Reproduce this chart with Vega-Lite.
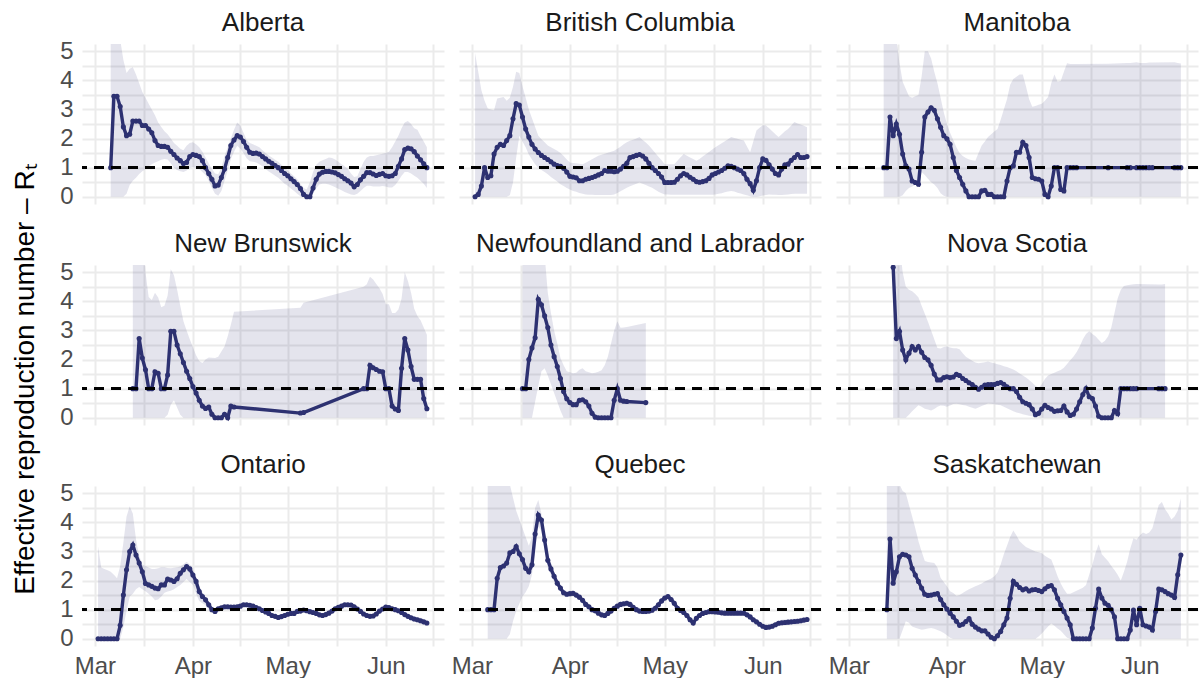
{
"$schema":"https://vega.github.io/schema/vega-lite/v6.json",
"background":"white",
"padding":{"left":11,"top":10,"right":0,"bottom":0},
"title":{"text":"Effective reproduction number – Rₜ","orient":"left","anchor":"middle","fontSize":28,"fontWeight":"normal","font":"Liberation Sans","color":"#000000","offset":20,"dx":-35},
"data":{"values":[
{"province":"Alberta","date":"2020-03-06","R":1.0,"lo":0,"hi":9},
{"province":"Alberta","date":"2020-03-07","R":3.45,"lo":0,"hi":8},
{"province":"Alberta","date":"2020-03-08","R":3.45,"lo":0,"hi":6.5},
{"province":"Alberta","date":"2020-03-09","R":3.1,"lo":0,"hi":5.4},
{"province":"Alberta","date":"2020-03-10","R":2.4,"lo":0,"hi":4.7},
{"province":"Alberta","date":"2020-03-11","R":2.1,"lo":0.1,"hi":4.25},
{"province":"Alberta","date":"2020-03-12","R":2.15,"lo":0.4,"hi":4.4},
{"province":"Alberta","date":"2020-03-13","R":2.6,"lo":0.55,"hi":4.45},
{"province":"Alberta","date":"2020-03-14","R":2.6,"lo":0.65,"hi":4.2},
{"province":"Alberta","date":"2020-03-15","R":2.6,"lo":0.78,"hi":3.9},
{"province":"Alberta","date":"2020-03-16","R":2.45,"lo":0.88,"hi":3.6},
{"province":"Alberta","date":"2020-03-17","R":2.45,"lo":0.95,"hi":3.4},
{"province":"Alberta","date":"2020-03-18","R":2.33,"lo":1.05,"hi":3.2},
{"province":"Alberta","date":"2020-03-19","R":2.2,"lo":1.12,"hi":3.0},
{"province":"Alberta","date":"2020-03-20","R":1.93,"lo":1.18,"hi":2.8},
{"province":"Alberta","date":"2020-03-21","R":1.76,"lo":1.22,"hi":2.55},
{"province":"Alberta","date":"2020-03-22","R":1.73,"lo":1.27,"hi":2.4},
{"province":"Alberta","date":"2020-03-23","R":1.73,"lo":1.3,"hi":2.25},
{"province":"Alberta","date":"2020-03-24","R":1.7,"lo":1.28,"hi":2.15},
{"province":"Alberta","date":"2020-03-25","R":1.56,"lo":1.15,"hi":2.0},
{"province":"Alberta","date":"2020-03-26","R":1.45,"lo":1.0,"hi":1.85},
{"province":"Alberta","date":"2020-03-27","R":1.33,"lo":0.92,"hi":1.75},
{"province":"Alberta","date":"2020-03-28","R":1.24,"lo":0.88,"hi":1.65},
{"province":"Alberta","date":"2020-03-29","R":1.14,"lo":0.85,"hi":1.6},
{"province":"Alberta","date":"2020-03-30","R":1.18,"lo":0.9,"hi":1.75},
{"province":"Alberta","date":"2020-03-31","R":1.38,"lo":1.0,"hi":1.85},
{"province":"Alberta","date":"2020-04-01","R":1.45,"lo":1.02,"hi":1.87},
{"province":"Alberta","date":"2020-04-02","R":1.42,"lo":1.0,"hi":1.8},
{"province":"Alberta","date":"2020-04-03","R":1.38,"lo":0.95,"hi":1.7},
{"province":"Alberta","date":"2020-04-04","R":1.24,"lo":0.85,"hi":1.55},
{"province":"Alberta","date":"2020-04-05","R":1.0,"lo":0.75,"hi":1.35},
{"province":"Alberta","date":"2020-04-06","R":0.8,"lo":0.55,"hi":1.15},
{"province":"Alberta","date":"2020-04-07","R":0.6,"lo":0.3,"hi":0.95},
{"province":"Alberta","date":"2020-04-08","R":0.37,"lo":0.1,"hi":0.8},
{"province":"Alberta","date":"2020-04-09","R":0.4,"lo":0.03,"hi":0.77},
{"province":"Alberta","date":"2020-04-10","R":0.66,"lo":0.2,"hi":1.0},
{"province":"Alberta","date":"2020-04-11","R":0.95,"lo":0.55,"hi":1.4},
{"province":"Alberta","date":"2020-04-12","R":1.35,"lo":0.9,"hi":1.7},
{"province":"Alberta","date":"2020-04-13","R":1.76,"lo":1.3,"hi":2.0},
{"province":"Alberta","date":"2020-04-14","R":1.95,"lo":1.55,"hi":2.3},
{"province":"Alberta","date":"2020-04-15","R":2.1,"lo":1.75,"hi":2.55},
{"province":"Alberta","date":"2020-04-16","R":2.05,"lo":1.65,"hi":2.45},
{"province":"Alberta","date":"2020-04-17","R":1.9,"lo":1.5,"hi":2.2},
{"province":"Alberta","date":"2020-04-18","R":1.7,"lo":1.32,"hi":1.95},
{"province":"Alberta","date":"2020-04-19","R":1.53,"lo":1.22,"hi":1.85},
{"province":"Alberta","date":"2020-04-20","R":1.49,"lo":1.2,"hi":1.8},
{"province":"Alberta","date":"2020-04-21","R":1.5,"lo":1.18,"hi":1.75},
{"province":"Alberta","date":"2020-04-22","R":1.47,"lo":1.12,"hi":1.7},
{"province":"Alberta","date":"2020-04-23","R":1.38,"lo":1.05,"hi":1.6},
{"province":"Alberta","date":"2020-04-24","R":1.3,"lo":0.95,"hi":1.5},
{"province":"Alberta","date":"2020-04-25","R":1.22,"lo":0.87,"hi":1.42},
{"province":"Alberta","date":"2020-04-26","R":1.15,"lo":0.8,"hi":1.35},
{"province":"Alberta","date":"2020-04-27","R":1.07,"lo":0.72,"hi":1.27},
{"province":"Alberta","date":"2020-04-28","R":1.0,"lo":0.65,"hi":1.2},
{"province":"Alberta","date":"2020-04-29","R":0.9,"lo":0.55,"hi":1.1},
{"province":"Alberta","date":"2020-04-30","R":0.8,"lo":0.45,"hi":1.0},
{"province":"Alberta","date":"2020-05-01","R":0.72,"lo":0.38,"hi":0.9},
{"province":"Alberta","date":"2020-05-02","R":0.62,"lo":0.28,"hi":0.8},
{"province":"Alberta","date":"2020-05-03","R":0.52,"lo":0.2,"hi":0.7},
{"province":"Alberta","date":"2020-05-04","R":0.42,"lo":0.1,"hi":0.6},
{"province":"Alberta","date":"2020-05-05","R":0.28,"lo":0.02,"hi":0.45},
{"province":"Alberta","date":"2020-05-06","R":0.08,"lo":0,"hi":0.3},
{"province":"Alberta","date":"2020-05-07","R":0,"lo":0,"hi":0.25},
{"province":"Alberta","date":"2020-05-08","R":0,"lo":0,"hi":0.5},
{"province":"Alberta","date":"2020-05-09","R":0.3,"lo":0.1,"hi":0.85},
{"province":"Alberta","date":"2020-05-10","R":0.6,"lo":0.3,"hi":1.1},
{"province":"Alberta","date":"2020-05-11","R":0.78,"lo":0.42,"hi":1.2},
{"province":"Alberta","date":"2020-05-12","R":0.84,"lo":0.45,"hi":1.25},
{"province":"Alberta","date":"2020-05-13","R":0.87,"lo":0.45,"hi":1.3},
{"province":"Alberta","date":"2020-05-14","R":0.87,"lo":0.42,"hi":1.35},
{"province":"Alberta","date":"2020-05-15","R":0.85,"lo":0.38,"hi":1.33},
{"province":"Alberta","date":"2020-05-16","R":0.82,"lo":0.33,"hi":1.28},
{"province":"Alberta","date":"2020-05-17","R":0.76,"lo":0.27,"hi":1.2},
{"province":"Alberta","date":"2020-05-18","R":0.7,"lo":0.22,"hi":1.12},
{"province":"Alberta","date":"2020-05-19","R":0.62,"lo":0.16,"hi":1.05},
{"province":"Alberta","date":"2020-05-20","R":0.55,"lo":0.12,"hi":0.95},
{"province":"Alberta","date":"2020-05-21","R":0.47,"lo":0.08,"hi":0.8},
{"province":"Alberta","date":"2020-05-22","R":0.34,"lo":0.06,"hi":0.68},
{"province":"Alberta","date":"2020-05-23","R":0.42,"lo":0.1,"hi":0.7},
{"province":"Alberta","date":"2020-05-24","R":0.58,"lo":0.2,"hi":0.95},
{"province":"Alberta","date":"2020-05-25","R":0.7,"lo":0.3,"hi":1.2},
{"province":"Alberta","date":"2020-05-26","R":0.83,"lo":0.38,"hi":1.35},
{"province":"Alberta","date":"2020-05-27","R":0.83,"lo":0.38,"hi":1.4},
{"province":"Alberta","date":"2020-05-28","R":0.78,"lo":0.35,"hi":1.4},
{"province":"Alberta","date":"2020-05-29","R":0.73,"lo":0.35,"hi":1.43},
{"province":"Alberta","date":"2020-05-30","R":0.77,"lo":0.35,"hi":1.45},
{"province":"Alberta","date":"2020-05-31","R":0.8,"lo":0.37,"hi":1.48},
{"province":"Alberta","date":"2020-06-01","R":0.72,"lo":0.35,"hi":1.5},
{"province":"Alberta","date":"2020-06-02","R":0.7,"lo":0.32,"hi":1.55},
{"province":"Alberta","date":"2020-06-03","R":0.72,"lo":0.32,"hi":1.7},
{"province":"Alberta","date":"2020-06-04","R":0.8,"lo":0.4,"hi":1.9},
{"province":"Alberta","date":"2020-06-05","R":1.05,"lo":0.55,"hi":2.1},
{"province":"Alberta","date":"2020-06-06","R":1.3,"lo":0.72,"hi":2.35},
{"province":"Alberta","date":"2020-06-07","R":1.62,"lo":0.85,"hi":2.55},
{"province":"Alberta","date":"2020-06-08","R":1.67,"lo":0.85,"hi":2.6},
{"province":"Alberta","date":"2020-06-09","R":1.65,"lo":0.8,"hi":2.5},
{"province":"Alberta","date":"2020-06-10","R":1.55,"lo":0.72,"hi":2.35},
{"province":"Alberta","date":"2020-06-11","R":1.4,"lo":0.65,"hi":2.3},
{"province":"Alberta","date":"2020-06-12","R":1.27,"lo":0.55,"hi":2.1},
{"province":"Alberta","date":"2020-06-13","R":1.13,"lo":0.45,"hi":1.9},
{"province":"Alberta","date":"2020-06-14","R":1.0,"lo":0.3,"hi":1.7},
{"province":"British Columbia","date":"2020-03-02","R":0,"lo":0,"hi":4.94},
{"province":"British Columbia","date":"2020-03-03","R":0.08,"lo":0,"hi":4.3},
{"province":"British Columbia","date":"2020-03-04","R":0.37,"lo":0,"hi":3.66},
{"province":"British Columbia","date":"2020-03-05","R":1.0,"lo":0,"hi":3.3},
{"province":"British Columbia","date":"2020-03-06","R":0.66,"lo":0,"hi":3.03},
{"province":"British Columbia","date":"2020-03-07","R":0.72,"lo":0,"hi":3.0},
{"province":"British Columbia","date":"2020-03-08","R":1.47,"lo":0,"hi":2.97},
{"province":"British Columbia","date":"2020-03-09","R":1.7,"lo":0,"hi":3.38},
{"province":"British Columbia","date":"2020-03-10","R":1.8,"lo":0,"hi":3.4},
{"province":"British Columbia","date":"2020-03-11","R":1.76,"lo":0,"hi":3.43},
{"province":"British Columbia","date":"2020-03-12","R":1.93,"lo":0,"hi":3.3},
{"province":"British Columbia","date":"2020-03-13","R":2.1,"lo":0.05,"hi":3.4},
{"province":"British Columbia","date":"2020-03-14","R":2.68,"lo":0.5,"hi":3.78},
{"province":"British Columbia","date":"2020-03-15","R":3.2,"lo":1.35,"hi":4.3},
{"province":"British Columbia","date":"2020-03-16","R":3.15,"lo":2.1,"hi":4.25},
{"province":"British Columbia","date":"2020-03-17","R":2.74,"lo":1.9,"hi":3.8},
{"province":"British Columbia","date":"2020-03-18","R":2.33,"lo":1.7,"hi":3.4},
{"province":"British Columbia","date":"2020-03-19","R":2.05,"lo":1.45,"hi":3.0},
{"province":"British Columbia","date":"2020-03-20","R":1.8,"lo":1.28,"hi":2.7},
{"province":"British Columbia","date":"2020-03-21","R":1.64,"lo":1.12,"hi":2.4},
{"province":"British Columbia","date":"2020-03-22","R":1.52,"lo":1.0,"hi":2.1},
{"province":"British Columbia","date":"2020-03-23","R":1.42,"lo":0.92,"hi":1.98},
{"province":"British Columbia","date":"2020-03-24","R":1.35,"lo":0.85,"hi":1.87},
{"province":"British Columbia","date":"2020-03-25","R":1.28,"lo":0.77,"hi":1.76},
{"province":"British Columbia","date":"2020-03-26","R":1.2,"lo":0.68,"hi":1.7},
{"province":"British Columbia","date":"2020-03-27","R":1.12,"lo":0.6,"hi":1.64},
{"province":"British Columbia","date":"2020-03-28","R":1.07,"lo":0.52,"hi":1.58},
{"province":"British Columbia","date":"2020-03-29","R":1.05,"lo":0.43,"hi":1.5},
{"province":"British Columbia","date":"2020-03-30","R":0.98,"lo":0.37,"hi":1.4},
{"province":"British Columbia","date":"2020-03-31","R":0.85,"lo":0.3,"hi":1.28},
{"province":"British Columbia","date":"2020-04-01","R":0.7,"lo":0.25,"hi":1.18},
{"province":"British Columbia","date":"2020-04-02","R":0.68,"lo":0.2,"hi":1.16},
{"province":"British Columbia","date":"2020-04-03","R":0.65,"lo":0.17,"hi":1.15},
{"province":"British Columbia","date":"2020-04-04","R":0.55,"lo":0.13,"hi":1.13},
{"province":"British Columbia","date":"2020-04-05","R":0.55,"lo":0.1,"hi":1.12},
{"province":"British Columbia","date":"2020-04-06","R":0.6,"lo":0.08,"hi":1.17},
{"province":"British Columbia","date":"2020-04-07","R":0.63,"lo":0.07,"hi":1.23},
{"province":"British Columbia","date":"2020-04-08","R":0.66,"lo":0.07,"hi":1.29},
{"province":"British Columbia","date":"2020-04-09","R":0.7,"lo":0.06,"hi":1.35},
{"province":"British Columbia","date":"2020-04-10","R":0.75,"lo":0.06,"hi":1.41},
{"province":"British Columbia","date":"2020-04-11","R":0.8,"lo":0.06,"hi":1.44},
{"province":"British Columbia","date":"2020-04-12","R":0.9,"lo":0.06,"hi":1.48},
{"province":"British Columbia","date":"2020-04-13","R":0.88,"lo":0.06,"hi":1.51},
{"province":"British Columbia","date":"2020-04-14","R":0.88,"lo":0.06,"hi":1.55},
{"province":"British Columbia","date":"2020-04-15","R":0.86,"lo":0.08,"hi":1.58},
{"province":"British Columbia","date":"2020-04-16","R":0.88,"lo":0.13,"hi":1.65},
{"province":"British Columbia","date":"2020-04-17","R":0.95,"lo":0.19,"hi":1.72},
{"province":"British Columbia","date":"2020-04-18","R":1.05,"lo":0.25,"hi":1.8},
{"province":"British Columbia","date":"2020-04-19","R":1.15,"lo":0.31,"hi":1.87},
{"province":"British Columbia","date":"2020-04-20","R":1.35,"lo":0.36,"hi":1.92},
{"province":"British Columbia","date":"2020-04-21","R":1.38,"lo":0.4,"hi":1.96},
{"province":"British Columbia","date":"2020-04-22","R":1.42,"lo":0.45,"hi":2.0},
{"province":"British Columbia","date":"2020-04-23","R":1.45,"lo":0.49,"hi":2.05},
{"province":"British Columbia","date":"2020-04-24","R":1.4,"lo":0.45,"hi":1.95},
{"province":"British Columbia","date":"2020-04-25","R":1.3,"lo":0.4,"hi":1.86},
{"province":"British Columbia","date":"2020-04-26","R":1.15,"lo":0.35,"hi":1.76},
{"province":"British Columbia","date":"2020-04-27","R":1.0,"lo":0.31,"hi":1.63},
{"province":"British Columbia","date":"2020-04-28","R":0.9,"lo":0.24,"hi":1.5},
{"province":"British Columbia","date":"2020-04-29","R":0.8,"lo":0.17,"hi":1.37},
{"province":"British Columbia","date":"2020-04-30","R":0.68,"lo":0.12,"hi":1.25},
{"province":"British Columbia","date":"2020-05-01","R":0.49,"lo":0.08,"hi":1.12},
{"province":"British Columbia","date":"2020-05-02","R":0.49,"lo":0.08,"hi":1.12},
{"province":"British Columbia","date":"2020-05-03","R":0.49,"lo":0.07,"hi":1.12},
{"province":"British Columbia","date":"2020-05-04","R":0.5,"lo":0.07,"hi":1.12},
{"province":"British Columbia","date":"2020-05-05","R":0.6,"lo":0.07,"hi":1.24},
{"province":"British Columbia","date":"2020-05-06","R":0.72,"lo":0.07,"hi":1.36},
{"province":"British Columbia","date":"2020-05-07","R":0.8,"lo":0.07,"hi":1.47},
{"province":"British Columbia","date":"2020-05-08","R":0.75,"lo":0.07,"hi":1.41},
{"province":"British Columbia","date":"2020-05-09","R":0.67,"lo":0.07,"hi":1.35},
{"province":"British Columbia","date":"2020-05-10","R":0.6,"lo":0.07,"hi":1.3},
{"province":"British Columbia","date":"2020-05-11","R":0.52,"lo":0.07,"hi":1.24},
{"province":"British Columbia","date":"2020-05-12","R":0.5,"lo":0.07,"hi":1.3},
{"province":"British Columbia","date":"2020-05-13","R":0.52,"lo":0.07,"hi":1.38},
{"province":"British Columbia","date":"2020-05-14","R":0.55,"lo":0.07,"hi":1.46},
{"province":"British Columbia","date":"2020-05-15","R":0.63,"lo":0.07,"hi":1.54},
{"province":"British Columbia","date":"2020-05-16","R":0.75,"lo":0.07,"hi":1.62},
{"province":"British Columbia","date":"2020-05-17","R":0.8,"lo":0.08,"hi":1.7},
{"province":"British Columbia","date":"2020-05-18","R":0.85,"lo":0.1,"hi":1.77},
{"province":"British Columbia","date":"2020-05-19","R":0.9,"lo":0.12,"hi":1.84},
{"province":"British Columbia","date":"2020-05-20","R":0.98,"lo":0.15,"hi":1.91},
{"province":"British Columbia","date":"2020-05-21","R":1.06,"lo":0.18,"hi":1.98},
{"province":"British Columbia","date":"2020-05-22","R":1.05,"lo":0.2,"hi":2.05},
{"province":"British Columbia","date":"2020-05-23","R":1.0,"lo":0.18,"hi":2.02},
{"province":"British Columbia","date":"2020-05-24","R":0.95,"lo":0.14,"hi":1.99},
{"province":"British Columbia","date":"2020-05-25","R":0.9,"lo":0.11,"hi":1.96},
{"province":"British Columbia","date":"2020-05-26","R":0.8,"lo":0.08,"hi":1.93},
{"province":"British Columbia","date":"2020-05-27","R":0.6,"lo":0.05,"hi":1.73},
{"province":"British Columbia","date":"2020-05-28","R":0.45,"lo":0.02,"hi":1.53},
{"province":"British Columbia","date":"2020-05-29","R":0.22,"lo":0,"hi":1.9},
{"province":"British Columbia","date":"2020-05-30","R":0.55,"lo":0,"hi":2.28},
{"province":"British Columbia","date":"2020-05-31","R":1.0,"lo":0.02,"hi":2.37},
{"province":"British Columbia","date":"2020-06-01","R":1.3,"lo":0.04,"hi":2.46},
{"province":"British Columbia","date":"2020-06-02","R":1.25,"lo":0.06,"hi":2.45},
{"province":"British Columbia","date":"2020-06-03","R":1.1,"lo":0.08,"hi":2.35},
{"province":"British Columbia","date":"2020-06-04","R":0.95,"lo":0.07,"hi":2.25},
{"province":"British Columbia","date":"2020-06-05","R":0.8,"lo":0.07,"hi":2.15},
{"province":"British Columbia","date":"2020-06-06","R":0.75,"lo":0.06,"hi":2.05},
{"province":"British Columbia","date":"2020-06-07","R":0.95,"lo":0.06,"hi":2.15},
{"province":"British Columbia","date":"2020-06-08","R":1.1,"lo":0.07,"hi":2.25},
{"province":"British Columbia","date":"2020-06-09","R":1.12,"lo":0.08,"hi":2.33},
{"province":"British Columbia","date":"2020-06-10","R":1.25,"lo":0.09,"hi":2.45},
{"province":"British Columbia","date":"2020-06-11","R":1.35,"lo":0.1,"hi":2.57},
{"province":"British Columbia","date":"2020-06-12","R":1.45,"lo":0.1,"hi":2.52},
{"province":"British Columbia","date":"2020-06-13","R":1.35,"lo":0.1,"hi":2.48},
{"province":"British Columbia","date":"2020-06-14","R":1.35,"lo":0.1,"hi":2.44},
{"province":"British Columbia","date":"2020-06-15","R":1.38,"lo":0.1,"hi":2.39},
{"province":"Manitoba","date":"2020-03-12","R":1.0,"lo":0,"hi":8},
{"province":"Manitoba","date":"2020-03-13","R":1.0,"lo":0,"hi":8},
{"province":"Manitoba","date":"2020-03-14","R":2.74,"lo":0,"hi":8},
{"province":"Manitoba","date":"2020-03-15","R":2.1,"lo":0,"hi":8},
{"province":"Manitoba","date":"2020-03-16","R":2.5,"lo":0,"hi":5.4},
{"province":"Manitoba","date":"2020-03-17","R":2.15,"lo":0,"hi":4.6},
{"province":"Manitoba","date":"2020-03-18","R":1.47,"lo":0.05,"hi":3.95},
{"province":"Manitoba","date":"2020-03-19","R":1.06,"lo":0.2,"hi":3.7},
{"province":"Manitoba","date":"2020-03-20","R":0.95,"lo":0.3,"hi":3.45},
{"province":"Manitoba","date":"2020-03-21","R":0.54,"lo":0.35,"hi":3.4},
{"province":"Manitoba","date":"2020-03-22","R":0.49,"lo":0.4,"hi":3.45},
{"province":"Manitoba","date":"2020-03-23","R":0.43,"lo":0.42,"hi":3.5},
{"province":"Manitoba","date":"2020-03-24","R":1.53,"lo":0.85,"hi":4.13},
{"province":"Manitoba","date":"2020-03-25","R":2.74,"lo":0.75,"hi":5.0},
{"province":"Manitoba","date":"2020-03-26","R":2.91,"lo":0.62,"hi":5.0},
{"province":"Manitoba","date":"2020-03-27","R":3.06,"lo":0.5,"hi":4.75},
{"province":"Manitoba","date":"2020-03-28","R":2.97,"lo":0.42,"hi":4.3},
{"province":"Manitoba","date":"2020-03-29","R":2.68,"lo":0.3,"hi":3.9},
{"province":"Manitoba","date":"2020-03-30","R":2.39,"lo":0.12,"hi":3.4},
{"province":"Manitoba","date":"2020-03-31","R":2.1,"lo":0.03,"hi":2.9},
{"province":"Manitoba","date":"2020-04-01","R":1.99,"lo":0,"hi":2.5},
{"province":"Manitoba","date":"2020-04-02","R":1.8,"lo":0,"hi":2.2},
{"province":"Manitoba","date":"2020-04-03","R":1.35,"lo":0,"hi":1.95},
{"province":"Manitoba","date":"2020-04-04","R":0.9,"lo":0,"hi":1.7},
{"province":"Manitoba","date":"2020-04-05","R":0.66,"lo":0,"hi":1.5},
{"province":"Manitoba","date":"2020-04-06","R":0.43,"lo":0,"hi":1.4},
{"province":"Manitoba","date":"2020-04-07","R":0.2,"lo":0,"hi":1.33},
{"province":"Manitoba","date":"2020-04-08","R":0,"lo":0,"hi":1.28},
{"province":"Manitoba","date":"2020-04-09","R":0,"lo":0,"hi":1.25},
{"province":"Manitoba","date":"2020-04-10","R":0,"lo":0,"hi":1.24},
{"province":"Manitoba","date":"2020-04-11","R":0,"lo":0,"hi":1.5},
{"province":"Manitoba","date":"2020-04-12","R":0.2,"lo":0,"hi":1.76},
{"province":"Manitoba","date":"2020-04-13","R":0.22,"lo":0,"hi":1.9},
{"province":"Manitoba","date":"2020-04-14","R":0.08,"lo":0,"hi":2.05},
{"province":"Manitoba","date":"2020-04-15","R":0.08,"lo":0,"hi":2.15},
{"province":"Manitoba","date":"2020-04-16","R":0,"lo":0,"hi":2.24},
{"province":"Manitoba","date":"2020-04-17","R":0,"lo":0,"hi":2.33},
{"province":"Manitoba","date":"2020-04-18","R":0,"lo":0,"hi":2.65},
{"province":"Manitoba","date":"2020-04-19","R":0,"lo":0,"hi":3.0},
{"province":"Manitoba","date":"2020-04-20","R":0.54,"lo":0,"hi":3.35},
{"province":"Manitoba","date":"2020-04-21","R":1.0,"lo":0,"hi":3.85},
{"province":"Manitoba","date":"2020-04-22","R":1.06,"lo":0,"hi":4.05},
{"province":"Manitoba","date":"2020-04-23","R":1.53,"lo":0,"hi":4.12},
{"province":"Manitoba","date":"2020-04-24","R":1.53,"lo":0,"hi":4.2},
{"province":"Manitoba","date":"2020-04-25","R":1.87,"lo":0,"hi":4.2},
{"province":"Manitoba","date":"2020-04-26","R":1.76,"lo":0,"hi":3.8},
{"province":"Manitoba","date":"2020-04-27","R":1.35,"lo":0,"hi":3.35},
{"province":"Manitoba","date":"2020-04-28","R":0.66,"lo":0,"hi":3.09},
{"province":"Manitoba","date":"2020-04-29","R":0.62,"lo":0,"hi":3.12},
{"province":"Manitoba","date":"2020-04-30","R":0.6,"lo":0,"hi":3.16},
{"province":"Manitoba","date":"2020-05-01","R":0.54,"lo":0,"hi":3.2},
{"province":"Manitoba","date":"2020-05-02","R":0.08,"lo":0,"hi":3.3},
{"province":"Manitoba","date":"2020-05-03","R":0,"lo":0,"hi":3.43},
{"province":"Manitoba","date":"2020-05-04","R":0.37,"lo":0,"hi":3.9},
{"province":"Manitoba","date":"2020-05-05","R":1.0,"lo":0,"hi":4.2},
{"province":"Manitoba","date":"2020-05-06","R":1.0,"lo":0,"hi":3.95},
{"province":"Manitoba","date":"2020-05-07","R":0.25,"lo":0,"hi":3.98},
{"province":"Manitoba","date":"2020-05-08","R":0.2,"lo":0,"hi":4.3},
{"province":"Manitoba","date":"2020-05-09","R":1.0,"lo":0,"hi":4.59},
{"province":"Manitoba","date":"2020-05-10","R":1.0,"lo":0,"hi":4.56},
{"province":"Manitoba","date":"2020-05-11","R":1.0,"lo":0,"hi":4.56},
{"province":"Manitoba","date":"2020-05-12","R":1.0,"lo":0,"hi":4.56},
{"province":"Manitoba","date":"2020-05-22","R":1.0,"lo":0,"hi":4.57},
{"province":"Manitoba","date":"2020-05-28","R":1.0,"lo":0,"hi":4.6},
{"province":"Manitoba","date":"2020-05-29","R":1.0,"lo":0,"hi":4.6},
{"province":"Manitoba","date":"2020-05-31","R":1.0,"lo":0,"hi":4.62},
{"province":"Manitoba","date":"2020-06-01","R":1.0,"lo":0,"hi":4.6},
{"province":"Manitoba","date":"2020-06-02","R":1.0,"lo":0,"hi":4.6},
{"province":"Manitoba","date":"2020-06-03","R":1.0,"lo":0,"hi":4.6},
{"province":"Manitoba","date":"2020-06-04","R":1.0,"lo":0,"hi":4.61},
{"province":"Manitoba","date":"2020-06-05","R":1.0,"lo":0,"hi":4.61},
{"province":"Manitoba","date":"2020-06-12","R":1.0,"lo":0,"hi":4.62},
{"province":"Manitoba","date":"2020-06-13","R":1.0,"lo":0,"hi":4.6},
{"province":"Manitoba","date":"2020-06-14","R":1.0,"lo":0,"hi":4.58},
{"province":"New Brunswick","date":"2020-03-13","R":1.0,"lo":0,"hi":8},
{"province":"New Brunswick","date":"2020-03-14","R":1.0,"lo":0,"hi":8},
{"province":"New Brunswick","date":"2020-03-15","R":2.72,"lo":0,"hi":8},
{"province":"New Brunswick","date":"2020-03-16","R":2.05,"lo":0,"hi":6.5},
{"province":"New Brunswick","date":"2020-03-17","R":1.65,"lo":0,"hi":5.0},
{"province":"New Brunswick","date":"2020-03-18","R":1.0,"lo":0,"hi":4.15},
{"province":"New Brunswick","date":"2020-03-19","R":1.0,"lo":0,"hi":4.05},
{"province":"New Brunswick","date":"2020-03-20","R":1.58,"lo":0,"hi":4.3},
{"province":"New Brunswick","date":"2020-03-21","R":1.53,"lo":0,"hi":4.13},
{"province":"New Brunswick","date":"2020-03-22","R":1.0,"lo":0,"hi":3.8},
{"province":"New Brunswick","date":"2020-03-23","R":1.0,"lo":0,"hi":3.85},
{"province":"New Brunswick","date":"2020-03-24","R":1.47,"lo":0.1,"hi":4.2},
{"province":"New Brunswick","date":"2020-03-25","R":2.97,"lo":0.45,"hi":5.1},
{"province":"New Brunswick","date":"2020-03-26","R":2.97,"lo":0.6,"hi":4.9},
{"province":"New Brunswick","date":"2020-03-27","R":2.5,"lo":0.35,"hi":4.4},
{"province":"New Brunswick","date":"2020-03-28","R":2.2,"lo":0.1,"hi":3.85},
{"province":"New Brunswick","date":"2020-03-29","R":1.9,"lo":0,"hi":3.32},
{"province":"New Brunswick","date":"2020-03-30","R":1.6,"lo":0,"hi":3.0},
{"province":"New Brunswick","date":"2020-03-31","R":1.35,"lo":0,"hi":2.7},
{"province":"New Brunswick","date":"2020-04-01","R":1.07,"lo":0,"hi":2.42},
{"province":"New Brunswick","date":"2020-04-02","R":0.85,"lo":0,"hi":2.15},
{"province":"New Brunswick","date":"2020-04-03","R":0.6,"lo":0,"hi":1.95},
{"province":"New Brunswick","date":"2020-04-04","R":0.4,"lo":0,"hi":1.88},
{"province":"New Brunswick","date":"2020-04-05","R":0.32,"lo":0,"hi":2.0},
{"province":"New Brunswick","date":"2020-04-06","R":0.37,"lo":0,"hi":2.07},
{"province":"New Brunswick","date":"2020-04-07","R":0.12,"lo":0,"hi":2.06},
{"province":"New Brunswick","date":"2020-04-08","R":0,"lo":0,"hi":2.05},
{"province":"New Brunswick","date":"2020-04-09","R":0,"lo":0,"hi":2.1},
{"province":"New Brunswick","date":"2020-04-10","R":0,"lo":0,"hi":2.28},
{"province":"New Brunswick","date":"2020-04-11","R":0.12,"lo":0,"hi":2.45},
{"province":"New Brunswick","date":"2020-04-12","R":0,"lo":0,"hi":2.8},
{"province":"New Brunswick","date":"2020-04-13","R":0.4,"lo":0,"hi":3.2},
{"province":"New Brunswick","date":"2020-04-14","R":0.37,"lo":0,"hi":3.64},
{"province":"New Brunswick","date":"2020-05-05","R":0.16,"lo":0,"hi":3.78},
{"province":"New Brunswick","date":"2020-05-06","R":0.18,"lo":0,"hi":3.95},
{"province":"New Brunswick","date":"2020-05-25","R":1.0,"lo":0,"hi":4.5},
{"province":"New Brunswick","date":"2020-05-26","R":1.0,"lo":0,"hi":4.59},
{"province":"New Brunswick","date":"2020-05-27","R":1.8,"lo":0,"hi":4.85},
{"province":"New Brunswick","date":"2020-05-28","R":1.72,"lo":0,"hi":4.75},
{"province":"New Brunswick","date":"2020-05-29","R":1.66,"lo":0,"hi":4.6},
{"province":"New Brunswick","date":"2020-05-30","R":1.6,"lo":0,"hi":4.45},
{"province":"New Brunswick","date":"2020-05-31","R":1.58,"lo":0,"hi":4.25},
{"province":"New Brunswick","date":"2020-06-01","R":1.0,"lo":0,"hi":3.9},
{"province":"New Brunswick","date":"2020-06-02","R":1.0,"lo":0,"hi":3.9},
{"province":"New Brunswick","date":"2020-06-03","R":0.4,"lo":0,"hi":3.6},
{"province":"New Brunswick","date":"2020-06-04","R":0.3,"lo":0,"hi":3.6},
{"province":"New Brunswick","date":"2020-06-05","R":0.25,"lo":0,"hi":3.72},
{"province":"New Brunswick","date":"2020-06-06","R":1.7,"lo":0,"hi":4.1},
{"province":"New Brunswick","date":"2020-06-07","R":2.72,"lo":0,"hi":5.0},
{"province":"New Brunswick","date":"2020-06-08","R":2.33,"lo":0,"hi":4.7},
{"province":"New Brunswick","date":"2020-06-09","R":1.76,"lo":0,"hi":4.3},
{"province":"New Brunswick","date":"2020-06-10","R":1.32,"lo":0,"hi":3.75},
{"province":"New Brunswick","date":"2020-06-11","R":1.32,"lo":0,"hi":3.5},
{"province":"New Brunswick","date":"2020-06-12","R":1.32,"lo":0,"hi":3.35},
{"province":"New Brunswick","date":"2020-06-13","R":0.66,"lo":0,"hi":3.1},
{"province":"New Brunswick","date":"2020-06-14","R":0.31,"lo":0,"hi":2.85},
{"province":"Newfoundland and Labrador","date":"2020-03-17","R":1.0,"lo":0,"hi":8},
{"province":"Newfoundland and Labrador","date":"2020-03-18","R":1.0,"lo":0,"hi":8},
{"province":"Newfoundland and Labrador","date":"2020-03-19","R":2.0,"lo":0,"hi":8},
{"province":"Newfoundland and Labrador","date":"2020-03-20","R":2.4,"lo":0,"hi":8},
{"province":"Newfoundland and Labrador","date":"2020-03-21","R":2.75,"lo":0.55,"hi":8},
{"province":"Newfoundland and Labrador","date":"2020-03-22","R":4.07,"lo":1.1,"hi":8},
{"province":"Newfoundland and Labrador","date":"2020-03-23","R":3.88,"lo":1.6,"hi":8},
{"province":"Newfoundland and Labrador","date":"2020-03-24","R":3.5,"lo":1.7,"hi":5.6},
{"province":"Newfoundland and Labrador","date":"2020-03-25","R":3.1,"lo":1.45,"hi":4.3},
{"province":"Newfoundland and Labrador","date":"2020-03-26","R":2.5,"lo":1.15,"hi":3.6},
{"province":"Newfoundland and Labrador","date":"2020-03-27","R":2.1,"lo":0.85,"hi":3.0},
{"province":"Newfoundland and Labrador","date":"2020-03-28","R":1.76,"lo":0.55,"hi":2.55},
{"province":"Newfoundland and Labrador","date":"2020-03-29","R":1.35,"lo":0.25,"hi":2.05},
{"province":"Newfoundland and Labrador","date":"2020-03-30","R":0.9,"lo":0,"hi":1.8},
{"province":"Newfoundland and Labrador","date":"2020-03-31","R":0.65,"lo":0,"hi":1.6},
{"province":"Newfoundland and Labrador","date":"2020-04-01","R":0.52,"lo":0,"hi":1.56},
{"province":"Newfoundland and Labrador","date":"2020-04-02","R":0.45,"lo":0,"hi":1.53},
{"province":"Newfoundland and Labrador","date":"2020-04-03","R":0.45,"lo":0,"hi":1.55},
{"province":"Newfoundland and Labrador","date":"2020-04-04","R":0.6,"lo":0,"hi":1.65},
{"province":"Newfoundland and Labrador","date":"2020-04-05","R":0.62,"lo":0,"hi":1.7},
{"province":"Newfoundland and Labrador","date":"2020-04-06","R":0.55,"lo":0,"hi":1.6},
{"province":"Newfoundland and Labrador","date":"2020-04-07","R":0.4,"lo":0,"hi":1.56},
{"province":"Newfoundland and Labrador","date":"2020-04-08","R":0.15,"lo":0,"hi":1.53},
{"province":"Newfoundland and Labrador","date":"2020-04-09","R":0.02,"lo":0,"hi":1.55},
{"province":"Newfoundland and Labrador","date":"2020-04-10","R":0,"lo":0,"hi":1.58},
{"province":"Newfoundland and Labrador","date":"2020-04-11","R":0,"lo":0,"hi":1.63},
{"province":"Newfoundland and Labrador","date":"2020-04-12","R":0,"lo":0,"hi":1.8},
{"province":"Newfoundland and Labrador","date":"2020-04-13","R":0,"lo":0,"hi":2.1},
{"province":"Newfoundland and Labrador","date":"2020-04-14","R":0,"lo":0,"hi":2.55},
{"province":"Newfoundland and Labrador","date":"2020-04-15","R":0.6,"lo":0,"hi":3.0},
{"province":"Newfoundland and Labrador","date":"2020-04-16","R":1.0,"lo":0,"hi":3.32},
{"province":"Newfoundland and Labrador","date":"2020-04-17","R":0.6,"lo":0,"hi":3.09},
{"province":"Newfoundland and Labrador","date":"2020-04-18","R":0.57,"lo":0,"hi":3.1},
{"province":"Newfoundland and Labrador","date":"2020-04-19","R":0.56,"lo":0,"hi":3.12},
{"province":"Newfoundland and Labrador","date":"2020-04-25","R":0.52,"lo":0,"hi":3.26},
{"province":"Nova Scotia","date":"2020-03-15","R":5.17,"lo":0,"hi":9},
{"province":"Nova Scotia","date":"2020-03-16","R":2.72,"lo":0,"hi":8},
{"province":"Nova Scotia","date":"2020-03-17","R":2.97,"lo":0,"hi":6},
{"province":"Nova Scotia","date":"2020-03-18","R":2.33,"lo":0,"hi":5.0},
{"province":"Nova Scotia","date":"2020-03-19","R":1.99,"lo":0,"hi":4.5},
{"province":"Nova Scotia","date":"2020-03-20","R":2.22,"lo":0.1,"hi":4.4},
{"province":"Nova Scotia","date":"2020-03-21","R":2.45,"lo":0.22,"hi":4.35},
{"province":"Nova Scotia","date":"2020-03-22","R":2.33,"lo":0.33,"hi":4.25},
{"province":"Nova Scotia","date":"2020-03-23","R":2.45,"lo":0.43,"hi":4.13},
{"province":"Nova Scotia","date":"2020-03-24","R":2.25,"lo":0.38,"hi":3.85},
{"province":"Nova Scotia","date":"2020-03-25","R":2.07,"lo":0.31,"hi":3.57},
{"province":"Nova Scotia","date":"2020-03-26","R":1.99,"lo":0.28,"hi":3.3},
{"province":"Nova Scotia","date":"2020-03-27","R":1.8,"lo":0.25,"hi":3.0},
{"province":"Nova Scotia","date":"2020-03-28","R":1.5,"lo":0.3,"hi":2.7},
{"province":"Nova Scotia","date":"2020-03-29","R":1.3,"lo":0.38,"hi":2.4},
{"province":"Nova Scotia","date":"2020-03-30","R":1.3,"lo":0.42,"hi":2.38},
{"province":"Nova Scotia","date":"2020-03-31","R":1.38,"lo":0.41,"hi":2.43},
{"province":"Nova Scotia","date":"2020-04-01","R":1.41,"lo":0.38,"hi":2.45},
{"province":"Nova Scotia","date":"2020-04-02","R":1.38,"lo":0.42,"hi":2.41},
{"province":"Nova Scotia","date":"2020-04-03","R":1.4,"lo":0.47,"hi":2.39},
{"province":"Nova Scotia","date":"2020-04-04","R":1.49,"lo":0.48,"hi":2.39},
{"province":"Nova Scotia","date":"2020-04-05","R":1.45,"lo":0.46,"hi":2.35},
{"province":"Nova Scotia","date":"2020-04-06","R":1.35,"lo":0.44,"hi":2.22},
{"province":"Nova Scotia","date":"2020-04-07","R":1.28,"lo":0.42,"hi":2.1},
{"province":"Nova Scotia","date":"2020-04-08","R":1.2,"lo":0.38,"hi":2.03},
{"province":"Nova Scotia","date":"2020-04-09","R":1.14,"lo":0.34,"hi":1.96},
{"province":"Nova Scotia","date":"2020-04-10","R":1.05,"lo":0.31,"hi":1.9},
{"province":"Nova Scotia","date":"2020-04-11","R":0.98,"lo":0.35,"hi":1.87},
{"province":"Nova Scotia","date":"2020-04-12","R":1.05,"lo":0.4,"hi":1.89},
{"province":"Nova Scotia","date":"2020-04-13","R":1.12,"lo":0.45,"hi":1.91},
{"province":"Nova Scotia","date":"2020-04-14","R":1.14,"lo":0.49,"hi":1.93},
{"province":"Nova Scotia","date":"2020-04-15","R":1.14,"lo":0.48,"hi":1.9},
{"province":"Nova Scotia","date":"2020-04-16","R":1.14,"lo":0.46,"hi":1.87},
{"province":"Nova Scotia","date":"2020-04-17","R":1.18,"lo":0.45,"hi":1.84},
{"province":"Nova Scotia","date":"2020-04-18","R":1.21,"lo":0.43,"hi":1.81},
{"province":"Nova Scotia","date":"2020-04-19","R":1.15,"lo":0.38,"hi":1.77},
{"province":"Nova Scotia","date":"2020-04-20","R":1.06,"lo":0.33,"hi":1.74},
{"province":"Nova Scotia","date":"2020-04-21","R":1.0,"lo":0.27,"hi":1.7},
{"province":"Nova Scotia","date":"2020-04-22","R":1.0,"lo":0.22,"hi":1.66},
{"province":"Nova Scotia","date":"2020-04-23","R":0.9,"lo":0.18,"hi":1.6},
{"province":"Nova Scotia","date":"2020-04-24","R":0.7,"lo":0.15,"hi":1.52},
{"province":"Nova Scotia","date":"2020-04-25","R":0.55,"lo":0.12,"hi":1.45},
{"province":"Nova Scotia","date":"2020-04-26","R":0.5,"lo":0.09,"hi":1.38},
{"province":"Nova Scotia","date":"2020-04-27","R":0.45,"lo":0.07,"hi":1.3},
{"province":"Nova Scotia","date":"2020-04-28","R":0.3,"lo":0.05,"hi":1.2},
{"province":"Nova Scotia","date":"2020-04-29","R":0.1,"lo":0.03,"hi":1.1},
{"province":"Nova Scotia","date":"2020-04-30","R":0.15,"lo":0.01,"hi":1.02},
{"province":"Nova Scotia","date":"2020-05-01","R":0.3,"lo":0,"hi":1.15},
{"province":"Nova Scotia","date":"2020-05-02","R":0.43,"lo":0,"hi":1.33},
{"province":"Nova Scotia","date":"2020-05-03","R":0.35,"lo":0,"hi":1.45},
{"province":"Nova Scotia","date":"2020-05-04","R":0.3,"lo":0,"hi":1.5},
{"province":"Nova Scotia","date":"2020-05-05","R":0.22,"lo":0,"hi":1.55},
{"province":"Nova Scotia","date":"2020-05-06","R":0.24,"lo":0,"hi":1.6},
{"province":"Nova Scotia","date":"2020-05-07","R":0.25,"lo":0,"hi":1.64},
{"province":"Nova Scotia","date":"2020-05-08","R":0.4,"lo":0,"hi":1.72},
{"province":"Nova Scotia","date":"2020-05-09","R":0.2,"lo":0,"hi":1.85},
{"province":"Nova Scotia","date":"2020-05-10","R":0.08,"lo":0,"hi":1.98},
{"province":"Nova Scotia","date":"2020-05-11","R":0.12,"lo":0,"hi":2.1},
{"province":"Nova Scotia","date":"2020-05-12","R":0.3,"lo":0,"hi":2.25},
{"province":"Nova Scotia","date":"2020-05-13","R":0.55,"lo":0,"hi":2.45},
{"province":"Nova Scotia","date":"2020-05-14","R":0.8,"lo":0,"hi":2.7},
{"province":"Nova Scotia","date":"2020-05-15","R":1.0,"lo":0,"hi":2.88},
{"province":"Nova Scotia","date":"2020-05-16","R":0.72,"lo":0,"hi":2.97},
{"province":"Nova Scotia","date":"2020-05-17","R":0.66,"lo":0,"hi":2.88},
{"province":"Nova Scotia","date":"2020-05-18","R":0.4,"lo":0,"hi":2.8},
{"province":"Nova Scotia","date":"2020-05-19","R":0.05,"lo":0,"hi":2.68},
{"province":"Nova Scotia","date":"2020-05-20","R":0,"lo":0,"hi":2.57},
{"province":"Nova Scotia","date":"2020-05-21","R":0,"lo":0,"hi":2.65},
{"province":"Nova Scotia","date":"2020-05-22","R":0,"lo":0,"hi":2.8},
{"province":"Nova Scotia","date":"2020-05-23","R":0,"lo":0,"hi":3.1},
{"province":"Nova Scotia","date":"2020-05-24","R":0.25,"lo":0,"hi":3.6},
{"province":"Nova Scotia","date":"2020-05-25","R":0.14,"lo":0,"hi":4.1},
{"province":"Nova Scotia","date":"2020-05-26","R":1.0,"lo":0,"hi":4.4},
{"province":"Nova Scotia","date":"2020-05-27","R":1.0,"lo":0,"hi":4.53},
{"province":"Nova Scotia","date":"2020-05-28","R":1.0,"lo":0,"hi":4.55},
{"province":"Nova Scotia","date":"2020-05-29","R":1.0,"lo":0,"hi":4.57},
{"province":"Nova Scotia","date":"2020-05-30","R":1.0,"lo":0,"hi":4.59},
{"province":"Nova Scotia","date":"2020-05-31","R":1.0,"lo":0,"hi":4.6},
{"province":"Nova Scotia","date":"2020-06-07","R":1.0,"lo":0,"hi":4.58},
{"province":"Nova Scotia","date":"2020-06-08","R":1.0,"lo":0,"hi":4.58},
{"province":"Nova Scotia","date":"2020-06-09","R":1.0,"lo":0,"hi":4.6},
{"province":"Ontario","date":"2020-03-02","R":0,"lo":0,"hi":3.17},
{"province":"Ontario","date":"2020-03-03","R":0,"lo":0,"hi":2.45},
{"province":"Ontario","date":"2020-03-04","R":0,"lo":0,"hi":2.4},
{"province":"Ontario","date":"2020-03-05","R":0,"lo":0,"hi":2.35},
{"province":"Ontario","date":"2020-03-06","R":0,"lo":0,"hi":2.3},
{"province":"Ontario","date":"2020-03-07","R":0,"lo":0,"hi":2.2},
{"province":"Ontario","date":"2020-03-08","R":0,"lo":0,"hi":2.08},
{"province":"Ontario","date":"2020-03-09","R":0.46,"lo":0,"hi":2.5},
{"province":"Ontario","date":"2020-03-10","R":1.5,"lo":0.4,"hi":3.3},
{"province":"Ontario","date":"2020-03-11","R":2.37,"lo":0.95,"hi":4.2},
{"province":"Ontario","date":"2020-03-12","R":3.0,"lo":1.45,"hi":4.55},
{"province":"Ontario","date":"2020-03-13","R":3.22,"lo":1.55,"hi":4.3},
{"province":"Ontario","date":"2020-03-14","R":2.88,"lo":1.7,"hi":3.4},
{"province":"Ontario","date":"2020-03-15","R":2.6,"lo":1.78,"hi":2.85},
{"province":"Ontario","date":"2020-03-16","R":2.3,"lo":1.7,"hi":2.55},
{"province":"Ontario","date":"2020-03-17","R":1.9,"lo":1.63,"hi":2.5},
{"province":"Ontario","date":"2020-03-18","R":1.85,"lo":1.55,"hi":2.45},
{"province":"Ontario","date":"2020-03-19","R":1.8,"lo":1.45,"hi":2.4},
{"province":"Ontario","date":"2020-03-20","R":1.74,"lo":1.32,"hi":2.4},
{"province":"Ontario","date":"2020-03-21","R":1.72,"lo":1.35,"hi":2.42},
{"province":"Ontario","date":"2020-03-22","R":1.85,"lo":1.45,"hi":2.46},
{"province":"Ontario","date":"2020-03-23","R":1.85,"lo":1.58,"hi":2.46},
{"province":"Ontario","date":"2020-03-24","R":2.05,"lo":1.62,"hi":2.43},
{"province":"Ontario","date":"2020-03-25","R":2.02,"lo":1.65,"hi":2.42},
{"province":"Ontario","date":"2020-03-26","R":1.97,"lo":1.7,"hi":2.44},
{"province":"Ontario","date":"2020-03-27","R":2.06,"lo":1.78,"hi":2.46},
{"province":"Ontario","date":"2020-03-28","R":2.25,"lo":1.85,"hi":2.48},
{"province":"Ontario","date":"2020-03-29","R":2.37,"lo":1.95,"hi":2.56},
{"province":"Ontario","date":"2020-03-30","R":2.48,"lo":2.05,"hi":2.65},
{"province":"Ontario","date":"2020-03-31","R":2.4,"lo":1.95,"hi":2.55},
{"province":"Ontario","date":"2020-04-01","R":2.19,"lo":1.85,"hi":2.4},
{"province":"Ontario","date":"2020-04-02","R":1.97,"lo":1.55,"hi":2.1},
{"province":"Ontario","date":"2020-04-03","R":1.62,"lo":1.3,"hi":1.8},
{"province":"Ontario","date":"2020-04-04","R":1.45,"lo":1.22,"hi":1.6},
{"province":"Ontario","date":"2020-04-05","R":1.34,"lo":1.15,"hi":1.45},
{"province":"Ontario","date":"2020-04-06","R":1.17,"lo":1.0,"hi":1.27},
{"province":"Ontario","date":"2020-04-07","R":1.0,"lo":0.9,"hi":1.1},
{"province":"Ontario","date":"2020-04-08","R":0.94,"lo":0.86,"hi":1.02},
{"province":"Ontario","date":"2020-04-09","R":1.03,"lo":0.96,"hi":1.1},
{"province":"Ontario","date":"2020-04-10","R":1.06,"lo":0.99,"hi":1.13},
{"province":"Ontario","date":"2020-04-11","R":1.1,"lo":1.03,"hi":1.17},
{"province":"Ontario","date":"2020-04-12","R":1.1,"lo":1.03,"hi":1.17},
{"province":"Ontario","date":"2020-04-13","R":1.09,"lo":1.02,"hi":1.16},
{"province":"Ontario","date":"2020-04-14","R":1.09,"lo":1.02,"hi":1.16},
{"province":"Ontario","date":"2020-04-15","R":1.1,"lo":1.03,"hi":1.17},
{"province":"Ontario","date":"2020-04-16","R":1.12,"lo":1.05,"hi":1.19},
{"province":"Ontario","date":"2020-04-17","R":1.17,"lo":1.1,"hi":1.24},
{"province":"Ontario","date":"2020-04-18","R":1.17,"lo":1.1,"hi":1.24},
{"province":"Ontario","date":"2020-04-19","R":1.15,"lo":1.08,"hi":1.22},
{"province":"Ontario","date":"2020-04-20","R":1.12,"lo":1.05,"hi":1.19},
{"province":"Ontario","date":"2020-04-21","R":1.07,"lo":1.0,"hi":1.14},
{"province":"Ontario","date":"2020-04-22","R":1.03,"lo":0.96,"hi":1.1},
{"province":"Ontario","date":"2020-04-23","R":0.97,"lo":0.9,"hi":1.04},
{"province":"Ontario","date":"2020-04-24","R":0.92,"lo":0.85,"hi":0.99},
{"province":"Ontario","date":"2020-04-25","R":0.87,"lo":0.8,"hi":0.94},
{"province":"Ontario","date":"2020-04-26","R":0.8,"lo":0.73,"hi":0.87},
{"province":"Ontario","date":"2020-04-27","R":0.77,"lo":0.7,"hi":0.84},
{"province":"Ontario","date":"2020-04-28","R":0.73,"lo":0.66,"hi":0.8},
{"province":"Ontario","date":"2020-04-29","R":0.76,"lo":0.69,"hi":0.83},
{"province":"Ontario","date":"2020-04-30","R":0.8,"lo":0.73,"hi":0.87},
{"province":"Ontario","date":"2020-05-01","R":0.84,"lo":0.77,"hi":0.91},
{"province":"Ontario","date":"2020-05-02","R":0.87,"lo":0.8,"hi":0.94},
{"province":"Ontario","date":"2020-05-03","R":0.87,"lo":0.8,"hi":0.94},
{"province":"Ontario","date":"2020-05-04","R":0.94,"lo":0.87,"hi":1.01},
{"province":"Ontario","date":"2020-05-05","R":0.95,"lo":0.88,"hi":1.02},
{"province":"Ontario","date":"2020-05-06","R":0.99,"lo":0.92,"hi":1.06},
{"province":"Ontario","date":"2020-05-07","R":0.96,"lo":0.89,"hi":1.03},
{"province":"Ontario","date":"2020-05-08","R":0.93,"lo":0.86,"hi":1.0},
{"province":"Ontario","date":"2020-05-09","R":0.9,"lo":0.83,"hi":0.97},
{"province":"Ontario","date":"2020-05-10","R":0.87,"lo":0.8,"hi":0.94},
{"province":"Ontario","date":"2020-05-11","R":0.82,"lo":0.75,"hi":0.89},
{"province":"Ontario","date":"2020-05-12","R":0.8,"lo":0.73,"hi":0.87},
{"province":"Ontario","date":"2020-05-13","R":0.83,"lo":0.76,"hi":0.9},
{"province":"Ontario","date":"2020-05-14","R":0.88,"lo":0.81,"hi":0.95},
{"province":"Ontario","date":"2020-05-15","R":0.95,"lo":0.88,"hi":1.02},
{"province":"Ontario","date":"2020-05-16","R":1.03,"lo":0.96,"hi":1.1},
{"province":"Ontario","date":"2020-05-17","R":1.08,"lo":1.01,"hi":1.15},
{"province":"Ontario","date":"2020-05-18","R":1.12,"lo":1.05,"hi":1.19},
{"province":"Ontario","date":"2020-05-19","R":1.17,"lo":1.1,"hi":1.24},
{"province":"Ontario","date":"2020-05-20","R":1.17,"lo":1.1,"hi":1.24},
{"province":"Ontario","date":"2020-05-21","R":1.16,"lo":1.09,"hi":1.23},
{"province":"Ontario","date":"2020-05-22","R":1.1,"lo":1.03,"hi":1.17},
{"province":"Ontario","date":"2020-05-23","R":1.02,"lo":0.95,"hi":1.09},
{"province":"Ontario","date":"2020-05-24","R":0.94,"lo":0.87,"hi":1.01},
{"province":"Ontario","date":"2020-05-25","R":0.85,"lo":0.78,"hi":0.92},
{"province":"Ontario","date":"2020-05-26","R":0.8,"lo":0.73,"hi":0.87},
{"province":"Ontario","date":"2020-05-27","R":0.77,"lo":0.7,"hi":0.84},
{"province":"Ontario","date":"2020-05-28","R":0.78,"lo":0.71,"hi":0.85},
{"province":"Ontario","date":"2020-05-29","R":0.85,"lo":0.78,"hi":0.92},
{"province":"Ontario","date":"2020-05-30","R":0.95,"lo":0.88,"hi":1.02},
{"province":"Ontario","date":"2020-05-31","R":1.02,"lo":0.95,"hi":1.09},
{"province":"Ontario","date":"2020-06-01","R":1.09,"lo":1.02,"hi":1.16},
{"province":"Ontario","date":"2020-06-02","R":1.07,"lo":1.0,"hi":1.14},
{"province":"Ontario","date":"2020-06-03","R":1.03,"lo":0.96,"hi":1.1},
{"province":"Ontario","date":"2020-06-04","R":1.0,"lo":0.93,"hi":1.07},
{"province":"Ontario","date":"2020-06-05","R":0.96,"lo":0.89,"hi":1.03},
{"province":"Ontario","date":"2020-06-06","R":0.9,"lo":0.83,"hi":0.98},
{"province":"Ontario","date":"2020-06-07","R":0.83,"lo":0.75,"hi":0.91},
{"province":"Ontario","date":"2020-06-08","R":0.77,"lo":0.69,"hi":0.85},
{"province":"Ontario","date":"2020-06-09","R":0.72,"lo":0.63,"hi":0.81},
{"province":"Ontario","date":"2020-06-10","R":0.68,"lo":0.59,"hi":0.77},
{"province":"Ontario","date":"2020-06-11","R":0.65,"lo":0.56,"hi":0.74},
{"province":"Ontario","date":"2020-06-12","R":0.62,"lo":0.52,"hi":0.72},
{"province":"Ontario","date":"2020-06-13","R":0.58,"lo":0.48,"hi":0.68},
{"province":"Ontario","date":"2020-06-14","R":0.54,"lo":0.44,"hi":0.64},
{"province":"Quebec","date":"2020-03-06","R":1.0,"lo":0,"hi":9},
{"province":"Quebec","date":"2020-03-07","R":1.0,"lo":0,"hi":9},
{"province":"Quebec","date":"2020-03-08","R":1.0,"lo":0,"hi":9},
{"province":"Quebec","date":"2020-03-09","R":2.08,"lo":0,"hi":9},
{"province":"Quebec","date":"2020-03-10","R":2.45,"lo":0,"hi":8},
{"province":"Quebec","date":"2020-03-11","R":2.5,"lo":0,"hi":7},
{"province":"Quebec","date":"2020-03-12","R":2.6,"lo":0,"hi":6},
{"province":"Quebec","date":"2020-03-13","R":2.95,"lo":0.15,"hi":5.3},
{"province":"Quebec","date":"2020-03-14","R":3.0,"lo":0.6,"hi":4.85},
{"province":"Quebec","date":"2020-03-15","R":3.17,"lo":0.95,"hi":4.4},
{"province":"Quebec","date":"2020-03-16","R":2.92,"lo":1.2,"hi":4.1},
{"province":"Quebec","date":"2020-03-17","R":2.72,"lo":1.45,"hi":3.8},
{"province":"Quebec","date":"2020-03-18","R":2.42,"lo":1.6,"hi":3.5},
{"province":"Quebec","date":"2020-03-19","R":2.3,"lo":1.8,"hi":3.2},
{"province":"Quebec","date":"2020-03-20","R":2.54,"lo":2.2,"hi":3.5},
{"province":"Quebec","date":"2020-03-21","R":3.6,"lo":3.1,"hi":4.5},
{"province":"Quebec","date":"2020-03-22","R":4.25,"lo":3.85,"hi":4.77},
{"province":"Quebec","date":"2020-03-23","R":4.08,"lo":3.7,"hi":4.3},
{"province":"Quebec","date":"2020-03-24","R":3.39,"lo":3.05,"hi":3.7},
{"province":"Quebec","date":"2020-03-25","R":2.7,"lo":2.45,"hi":3.0},
{"province":"Quebec","date":"2020-03-26","R":2.4,"lo":2.2,"hi":2.6},
{"province":"Quebec","date":"2020-03-27","R":2.15,"lo":1.97,"hi":2.32},
{"province":"Quebec","date":"2020-03-28","R":1.91,"lo":1.81,"hi":2.01},
{"province":"Quebec","date":"2020-03-29","R":1.74,"lo":1.64,"hi":1.84},
{"province":"Quebec","date":"2020-03-30","R":1.58,"lo":1.48,"hi":1.68},
{"province":"Quebec","date":"2020-03-31","R":1.53,"lo":1.43,"hi":1.63},
{"province":"Quebec","date":"2020-04-01","R":1.55,"lo":1.45,"hi":1.65},
{"province":"Quebec","date":"2020-04-02","R":1.56,"lo":1.46,"hi":1.66},
{"province":"Quebec","date":"2020-04-03","R":1.5,"lo":1.4,"hi":1.6},
{"province":"Quebec","date":"2020-04-04","R":1.43,"lo":1.33,"hi":1.53},
{"province":"Quebec","date":"2020-04-05","R":1.32,"lo":1.22,"hi":1.42},
{"province":"Quebec","date":"2020-04-06","R":1.18,"lo":1.08,"hi":1.28},
{"province":"Quebec","date":"2020-04-07","R":1.1,"lo":1.0,"hi":1.2},
{"province":"Quebec","date":"2020-04-08","R":1.0,"lo":0.9,"hi":1.1},
{"province":"Quebec","date":"2020-04-09","R":0.96,"lo":0.86,"hi":1.06},
{"province":"Quebec","date":"2020-04-10","R":0.88,"lo":0.78,"hi":0.98},
{"province":"Quebec","date":"2020-04-11","R":0.82,"lo":0.72,"hi":0.92},
{"province":"Quebec","date":"2020-04-12","R":0.8,"lo":0.7,"hi":0.9},
{"province":"Quebec","date":"2020-04-13","R":0.87,"lo":0.77,"hi":0.97},
{"province":"Quebec","date":"2020-04-14","R":0.95,"lo":0.85,"hi":1.05},
{"province":"Quebec","date":"2020-04-15","R":1.05,"lo":0.95,"hi":1.15},
{"province":"Quebec","date":"2020-04-16","R":1.12,"lo":1.02,"hi":1.22},
{"province":"Quebec","date":"2020-04-17","R":1.18,"lo":1.08,"hi":1.28},
{"province":"Quebec","date":"2020-04-18","R":1.2,"lo":1.1,"hi":1.3},
{"province":"Quebec","date":"2020-04-19","R":1.22,"lo":1.12,"hi":1.32},
{"province":"Quebec","date":"2020-04-20","R":1.18,"lo":1.08,"hi":1.28},
{"province":"Quebec","date":"2020-04-21","R":1.08,"lo":0.98,"hi":1.18},
{"province":"Quebec","date":"2020-04-22","R":1.0,"lo":0.9,"hi":1.1},
{"province":"Quebec","date":"2020-04-23","R":0.95,"lo":0.85,"hi":1.05},
{"province":"Quebec","date":"2020-04-24","R":0.94,"lo":0.84,"hi":1.04},
{"province":"Quebec","date":"2020-04-25","R":0.94,"lo":0.84,"hi":1.04},
{"province":"Quebec","date":"2020-04-26","R":0.95,"lo":0.85,"hi":1.05},
{"province":"Quebec","date":"2020-04-27","R":0.98,"lo":0.88,"hi":1.08},
{"province":"Quebec","date":"2020-04-28","R":1.05,"lo":0.95,"hi":1.15},
{"province":"Quebec","date":"2020-04-29","R":1.17,"lo":1.07,"hi":1.27},
{"province":"Quebec","date":"2020-04-30","R":1.3,"lo":1.2,"hi":1.4},
{"province":"Quebec","date":"2020-05-01","R":1.4,"lo":1.3,"hi":1.5},
{"province":"Quebec","date":"2020-05-02","R":1.45,"lo":1.35,"hi":1.55},
{"province":"Quebec","date":"2020-05-03","R":1.35,"lo":1.25,"hi":1.45},
{"province":"Quebec","date":"2020-05-04","R":1.22,"lo":1.12,"hi":1.32},
{"province":"Quebec","date":"2020-05-05","R":1.05,"lo":0.95,"hi":1.15},
{"province":"Quebec","date":"2020-05-06","R":0.97,"lo":0.87,"hi":1.07},
{"province":"Quebec","date":"2020-05-07","R":0.9,"lo":0.8,"hi":1.0},
{"province":"Quebec","date":"2020-05-08","R":0.8,"lo":0.7,"hi":0.9},
{"province":"Quebec","date":"2020-05-09","R":0.65,"lo":0.55,"hi":0.75},
{"province":"Quebec","date":"2020-05-10","R":0.54,"lo":0.45,"hi":0.63},
{"province":"Quebec","date":"2020-05-11","R":0.7,"lo":0.62,"hi":0.78},
{"province":"Quebec","date":"2020-05-12","R":0.8,"lo":0.72,"hi":0.88},
{"province":"Quebec","date":"2020-05-13","R":0.87,"lo":0.79,"hi":0.95},
{"province":"Quebec","date":"2020-05-14","R":0.9,"lo":0.82,"hi":0.98},
{"province":"Quebec","date":"2020-05-15","R":0.93,"lo":0.85,"hi":1.01},
{"province":"Quebec","date":"2020-05-16","R":0.93,"lo":0.85,"hi":1.01},
{"province":"Quebec","date":"2020-05-17","R":0.92,"lo":0.84,"hi":1.0},
{"province":"Quebec","date":"2020-05-18","R":0.91,"lo":0.83,"hi":0.99},
{"province":"Quebec","date":"2020-05-19","R":0.89,"lo":0.81,"hi":0.97},
{"province":"Quebec","date":"2020-05-20","R":0.88,"lo":0.8,"hi":0.96},
{"province":"Quebec","date":"2020-05-21","R":0.88,"lo":0.8,"hi":0.96},
{"province":"Quebec","date":"2020-05-22","R":0.88,"lo":0.8,"hi":0.96},
{"province":"Quebec","date":"2020-05-23","R":0.88,"lo":0.8,"hi":0.96},
{"province":"Quebec","date":"2020-05-24","R":0.88,"lo":0.8,"hi":0.96},
{"province":"Quebec","date":"2020-05-25","R":0.88,"lo":0.8,"hi":0.96},
{"province":"Quebec","date":"2020-05-26","R":0.88,"lo":0.8,"hi":0.96},
{"province":"Quebec","date":"2020-05-27","R":0.82,"lo":0.74,"hi":0.9},
{"province":"Quebec","date":"2020-05-28","R":0.75,"lo":0.67,"hi":0.83},
{"province":"Quebec","date":"2020-05-29","R":0.65,"lo":0.57,"hi":0.73},
{"province":"Quebec","date":"2020-05-30","R":0.58,"lo":0.5,"hi":0.66},
{"province":"Quebec","date":"2020-05-31","R":0.5,"lo":0.42,"hi":0.58},
{"province":"Quebec","date":"2020-06-01","R":0.43,"lo":0.35,"hi":0.51},
{"province":"Quebec","date":"2020-06-02","R":0.39,"lo":0.31,"hi":0.47},
{"province":"Quebec","date":"2020-06-03","R":0.4,"lo":0.32,"hi":0.48},
{"province":"Quebec","date":"2020-06-04","R":0.43,"lo":0.34,"hi":0.52},
{"province":"Quebec","date":"2020-06-05","R":0.48,"lo":0.39,"hi":0.57},
{"province":"Quebec","date":"2020-06-06","R":0.53,"lo":0.43,"hi":0.63},
{"province":"Quebec","date":"2020-06-07","R":0.55,"lo":0.45,"hi":0.65},
{"province":"Quebec","date":"2020-06-08","R":0.56,"lo":0.46,"hi":0.66},
{"province":"Quebec","date":"2020-06-09","R":0.57,"lo":0.47,"hi":0.67},
{"province":"Quebec","date":"2020-06-10","R":0.58,"lo":0.48,"hi":0.68},
{"province":"Quebec","date":"2020-06-11","R":0.59,"lo":0.49,"hi":0.69},
{"province":"Quebec","date":"2020-06-12","R":0.6,"lo":0.5,"hi":0.7},
{"province":"Quebec","date":"2020-06-13","R":0.62,"lo":0.52,"hi":0.72},
{"province":"Quebec","date":"2020-06-14","R":0.64,"lo":0.54,"hi":0.74},
{"province":"Quebec","date":"2020-06-15","R":0.66,"lo":0.56,"hi":0.76},
{"province":"Saskatchewan","date":"2020-03-13","R":1.0,"lo":0,"hi":9},
{"province":"Saskatchewan","date":"2020-03-14","R":3.43,"lo":0,"hi":8},
{"province":"Saskatchewan","date":"2020-03-15","R":1.91,"lo":0,"hi":7},
{"province":"Saskatchewan","date":"2020-03-16","R":2.3,"lo":0,"hi":6},
{"province":"Saskatchewan","date":"2020-03-17","R":2.82,"lo":0,"hi":5.3},
{"province":"Saskatchewan","date":"2020-03-18","R":2.9,"lo":0.3,"hi":5.08},
{"province":"Saskatchewan","date":"2020-03-19","R":2.88,"lo":0.6,"hi":5.0},
{"province":"Saskatchewan","date":"2020-03-20","R":2.82,"lo":0.55,"hi":4.6},
{"province":"Saskatchewan","date":"2020-03-21","R":2.42,"lo":0.42,"hi":4.2},
{"province":"Saskatchewan","date":"2020-03-22","R":2.19,"lo":0.38,"hi":3.8},
{"province":"Saskatchewan","date":"2020-03-23","R":1.97,"lo":0.34,"hi":3.35},
{"province":"Saskatchewan","date":"2020-03-24","R":1.74,"lo":0.31,"hi":3.0},
{"province":"Saskatchewan","date":"2020-03-25","R":1.53,"lo":0.33,"hi":2.67},
{"province":"Saskatchewan","date":"2020-03-26","R":1.49,"lo":0.35,"hi":2.64},
{"province":"Saskatchewan","date":"2020-03-27","R":1.5,"lo":0.37,"hi":2.62},
{"province":"Saskatchewan","date":"2020-03-28","R":1.53,"lo":0.34,"hi":2.6},
{"province":"Saskatchewan","date":"2020-03-29","R":1.55,"lo":0.3,"hi":2.45},
{"province":"Saskatchewan","date":"2020-03-30","R":1.35,"lo":0.26,"hi":2.1},
{"province":"Saskatchewan","date":"2020-03-31","R":1.17,"lo":0.2,"hi":1.95},
{"province":"Saskatchewan","date":"2020-04-01","R":1.02,"lo":0.12,"hi":1.8},
{"province":"Saskatchewan","date":"2020-04-02","R":0.88,"lo":0.03,"hi":1.63},
{"province":"Saskatchewan","date":"2020-04-03","R":0.75,"lo":0,"hi":1.57},
{"province":"Saskatchewan","date":"2020-04-04","R":0.6,"lo":0,"hi":1.48},
{"province":"Saskatchewan","date":"2020-04-05","R":0.46,"lo":0,"hi":1.5},
{"province":"Saskatchewan","date":"2020-04-06","R":0.5,"lo":0,"hi":1.57},
{"province":"Saskatchewan","date":"2020-04-07","R":0.59,"lo":0,"hi":1.64},
{"province":"Saskatchewan","date":"2020-04-08","R":0.69,"lo":0,"hi":1.7},
{"province":"Saskatchewan","date":"2020-04-09","R":0.5,"lo":0,"hi":1.75},
{"province":"Saskatchewan","date":"2020-04-10","R":0.4,"lo":0,"hi":1.8},
{"province":"Saskatchewan","date":"2020-04-11","R":0.33,"lo":0,"hi":1.85},
{"province":"Saskatchewan","date":"2020-04-12","R":0.27,"lo":0,"hi":1.9},
{"province":"Saskatchewan","date":"2020-04-13","R":0.27,"lo":0,"hi":1.97},
{"province":"Saskatchewan","date":"2020-04-14","R":0.16,"lo":0,"hi":2.02},
{"province":"Saskatchewan","date":"2020-04-15","R":0.05,"lo":0,"hi":2.07},
{"province":"Saskatchewan","date":"2020-04-16","R":0,"lo":0,"hi":2.15},
{"province":"Saskatchewan","date":"2020-04-17","R":0.1,"lo":0,"hi":2.28},
{"province":"Saskatchewan","date":"2020-04-18","R":0.25,"lo":0,"hi":2.55},
{"province":"Saskatchewan","date":"2020-04-19","R":0.48,"lo":0,"hi":2.9},
{"province":"Saskatchewan","date":"2020-04-20","R":0.71,"lo":0,"hi":3.2},
{"province":"Saskatchewan","date":"2020-04-21","R":1.39,"lo":0,"hi":3.5},
{"province":"Saskatchewan","date":"2020-04-22","R":1.97,"lo":0,"hi":3.72},
{"province":"Saskatchewan","date":"2020-04-23","R":1.87,"lo":0,"hi":3.55},
{"province":"Saskatchewan","date":"2020-04-24","R":1.76,"lo":0,"hi":3.35},
{"province":"Saskatchewan","date":"2020-04-25","R":1.68,"lo":0,"hi":3.25},
{"province":"Saskatchewan","date":"2020-04-26","R":1.72,"lo":0,"hi":3.15},
{"province":"Saskatchewan","date":"2020-04-27","R":1.64,"lo":0,"hi":3.1},
{"province":"Saskatchewan","date":"2020-04-28","R":1.68,"lo":0,"hi":3.05},
{"province":"Saskatchewan","date":"2020-04-29","R":1.69,"lo":0,"hi":3.0},
{"province":"Saskatchewan","date":"2020-04-30","R":1.66,"lo":0.08,"hi":2.97},
{"province":"Saskatchewan","date":"2020-05-01","R":1.62,"lo":0.18,"hi":2.94},
{"province":"Saskatchewan","date":"2020-05-02","R":1.72,"lo":0.3,"hi":2.85},
{"province":"Saskatchewan","date":"2020-05-03","R":1.8,"lo":0.42,"hi":2.78},
{"province":"Saskatchewan","date":"2020-05-04","R":1.83,"lo":0.52,"hi":2.72},
{"province":"Saskatchewan","date":"2020-05-05","R":1.68,"lo":0.45,"hi":2.45},
{"province":"Saskatchewan","date":"2020-05-06","R":1.39,"lo":0.35,"hi":2.15},
{"province":"Saskatchewan","date":"2020-05-07","R":1.17,"lo":0.27,"hi":1.9},
{"province":"Saskatchewan","date":"2020-05-08","R":0.94,"lo":0.15,"hi":1.7},
{"province":"Saskatchewan","date":"2020-05-09","R":0.71,"lo":0.03,"hi":1.55},
{"province":"Saskatchewan","date":"2020-05-10","R":0.48,"lo":0,"hi":1.55},
{"province":"Saskatchewan","date":"2020-05-11","R":0,"lo":0,"hi":1.6},
{"province":"Saskatchewan","date":"2020-05-12","R":0,"lo":0,"hi":1.65},
{"province":"Saskatchewan","date":"2020-05-13","R":0,"lo":0,"hi":1.7},
{"province":"Saskatchewan","date":"2020-05-14","R":0,"lo":0,"hi":1.75},
{"province":"Saskatchewan","date":"2020-05-15","R":0,"lo":0,"hi":1.85},
{"province":"Saskatchewan","date":"2020-05-16","R":0,"lo":0,"hi":2.2},
{"province":"Saskatchewan","date":"2020-05-17","R":0.37,"lo":0,"hi":2.54},
{"province":"Saskatchewan","date":"2020-05-18","R":1.05,"lo":0,"hi":2.95},
{"province":"Saskatchewan","date":"2020-05-19","R":1.71,"lo":0,"hi":3.25},
{"province":"Saskatchewan","date":"2020-05-20","R":1.4,"lo":0,"hi":2.9},
{"province":"Saskatchewan","date":"2020-05-21","R":1.22,"lo":0,"hi":2.78},
{"province":"Saskatchewan","date":"2020-05-22","R":1.15,"lo":0,"hi":2.66},
{"province":"Saskatchewan","date":"2020-05-23","R":1.0,"lo":0,"hi":2.5},
{"province":"Saskatchewan","date":"2020-05-24","R":0.75,"lo":0,"hi":2.36},
{"province":"Saskatchewan","date":"2020-05-25","R":0,"lo":0,"hi":2.2},
{"province":"Saskatchewan","date":"2020-05-26","R":0,"lo":0,"hi":2.0},
{"province":"Saskatchewan","date":"2020-05-27","R":0,"lo":0,"hi":2.3},
{"province":"Saskatchewan","date":"2020-05-28","R":0,"lo":0,"hi":2.65},
{"province":"Saskatchewan","date":"2020-05-29","R":0.3,"lo":0,"hi":3.1},
{"province":"Saskatchewan","date":"2020-05-30","R":0.99,"lo":0,"hi":3.45},
{"province":"Saskatchewan","date":"2020-05-31","R":0.48,"lo":0,"hi":3.4},
{"province":"Saskatchewan","date":"2020-06-01","R":1.05,"lo":0,"hi":3.55},
{"province":"Saskatchewan","date":"2020-06-02","R":0.48,"lo":0,"hi":3.65},
{"province":"Saskatchewan","date":"2020-06-03","R":0.44,"lo":0,"hi":3.6},
{"province":"Saskatchewan","date":"2020-06-04","R":0.4,"lo":0,"hi":3.65},
{"province":"Saskatchewan","date":"2020-06-05","R":0.3,"lo":0,"hi":3.8},
{"province":"Saskatchewan","date":"2020-06-06","R":0.94,"lo":0,"hi":4.2},
{"province":"Saskatchewan","date":"2020-06-07","R":1.71,"lo":0,"hi":4.6},
{"province":"Saskatchewan","date":"2020-06-08","R":1.68,"lo":0,"hi":4.7},
{"province":"Saskatchewan","date":"2020-06-09","R":1.62,"lo":0,"hi":4.45},
{"province":"Saskatchewan","date":"2020-06-10","R":1.55,"lo":0,"hi":4.3},
{"province":"Saskatchewan","date":"2020-06-11","R":1.5,"lo":0,"hi":4.1},
{"province":"Saskatchewan","date":"2020-06-12","R":1.42,"lo":0,"hi":4.2},
{"province":"Saskatchewan","date":"2020-06-13","R":2.2,"lo":0,"hi":4.4},
{"province":"Saskatchewan","date":"2020-06-14","R":2.88,"lo":0,"hi":4.82}
]},
"facet":{"field":"province","type":"nominal","header":{"title":null,"labelFontSize":26,"labelFont":"Liberation Sans","labelColor":"#1a1a1a","labelPadding":8}},
"columns":3,
"spacing":{"row":27,"column":11},
"spec":{
"width":362,"height":160,
"layer":[
{"mark":{"type":"area","color":"#2d3171","opacity":0.13,"clip":true},
"encoding":{
"x":{"field":"date","type":"temporal","scale":{"type":"utc","domain":[{"year":2020,"month":2,"date":25,"hours":22,"utc":true},{"year":2020,"month":6,"date":19,"hours":10,"utc":true}]},"title":null,
"axis":{"values":[{"year":2020,"month":3,"date":1,"utc":true},{"year":2020,"month":3,"date":16,"hours":12,"utc":true},{"year":2020,"month":4,"date":1,"utc":true},{"year":2020,"month":4,"date":16,"utc":true},{"year":2020,"month":5,"date":1,"utc":true},{"year":2020,"month":5,"date":16,"hours":12,"utc":true},{"year":2020,"month":6,"date":1,"utc":true},{"year":2020,"month":6,"date":16,"utc":true}],"tickCount":20,
"labelExpr":"utcdate(datum.value) == 1 ? utcFormat(datum.value, '%b') : ''","labelOverlap":false,"labelFlush":false,"labelBound":false}},
"y":{"field":"lo","type":"quantitative","scale":{"domain":[-0.25,5.25],"nice":false,"zero":false},"title":null,
"axis":{"values":[0,0.5,1,1.5,2,2.5,3,3.5,4,4.5,5],"tickCount":20,"labelExpr":"datum.value == floor(datum.value) ? format(datum.value, 'd') : ''","labelOverlap":false,"labelPadding":7}},
"y2":{"field":"hi"}}},
{"mark":{"type":"line","color":"#2d3171","strokeWidth":3.4,"clip":true},
"encoding":{"x":{"field":"date","type":"temporal"},"y":{"field":"R","type":"quantitative"}}},
{"mark":{"type":"point","filled":true,"color":"#2d3171","size":26,"opacity":1,"clip":true},
"encoding":{"x":{"field":"date","type":"temporal"},"y":{"field":"R","type":"quantitative"}}},
{"mark":{"type":"rule","color":"#000000","strokeDash":[10,7],"strokeWidth":2.3},
"encoding":{"y":{"datum":1}}}
]},
"config":{
"font":"Liberation Sans",
"view":{"stroke":null},
"axis":{"grid":true,"gridColor":"#ebebeb","gridWidth":2,"ticks":false,"domain":false,"labelFontSize":24,"labelColor":"#4d4d4d","labelFont":"Liberation Sans","labelPadding":8}
}
}
